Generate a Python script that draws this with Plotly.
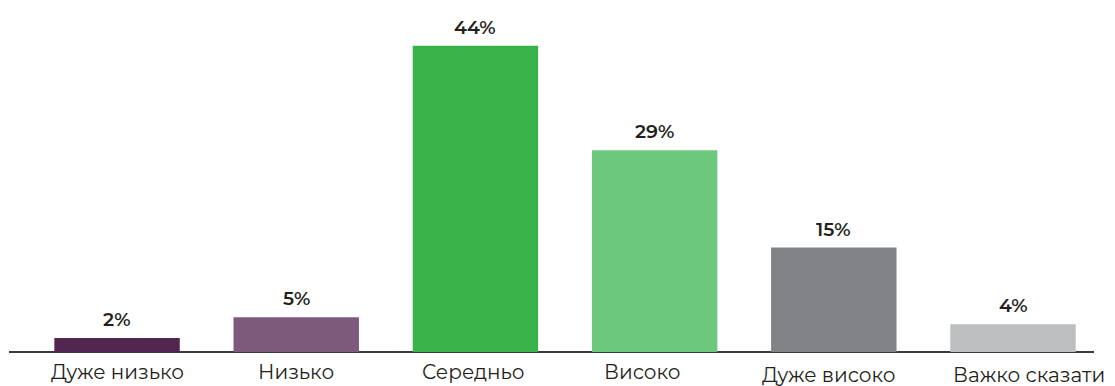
import plotly.graph_objects as go

# Survey answers and their shares, %
categories = ["Дуже низько", "Низько", "Середньо", "Високо", "Дуже високо", "Важко сказати"]
shares = [2, 5, 44, 29, 15, 4]
bar_colors = ["#522650", "#7d5a7c", "#37b34a", "#6cc87c", "#808285", "#bcbec0"]

FONT = "Montserrat, 'Open Sans', sans-serif"
TEXT_COLOR = "#231f20"

x = list(range(len(categories)))

fig = go.Figure(
    go.Bar(
        x=x,
        y=shares,
        width=0.70,
        marker=dict(color=bar_colors, line=dict(width=0)),
        hoverinfo="skip",
    )
)

# value labels above the bars
for xi, v in zip(x, shares):
    fig.add_annotation(
        x=xi, y=v, xref="x", yref="y",
        text=f"{v}%", showarrow=False,
        yanchor="bottom", yshift=5,
        font=dict(family=FONT, size=19, color=TEXT_COLOR, weight=600),
    )

# category captions under the baseline (slightly staggered)
label_xshift = [0, 0, -2, -12, -5, 16]
label_yshift = [-7, -7, -7, -7, -10, -10]
for xi, name, dx, dy in zip(x, categories, label_xshift, label_yshift):
    fig.add_annotation(
        x=xi, y=0, xref="x", yref="y",
        text=name, showarrow=False,
        yanchor="top", xshift=dx, yshift=dy, borderpad=0,
        font=dict(family=FONT, size=20, color=TEXT_COLOR),
    )

fig.update_layout(
    width=1115, height=386,
    margin=dict(l=9, r=21, t=4, b=34),
    paper_bgcolor="white", plot_bgcolor="white",
    showlegend=False,
    bargap=0.3,
    xaxis=dict(
        range=[-0.603, 5.452], showticklabels=False, showgrid=False,
        zeroline=False, showline=False, fixedrange=True,
    ),
    yaxis=dict(
        range=[0, 50], showticklabels=False, showgrid=False,
        zeroline=True, zerolinecolor="#3a3a3a", zerolinewidth=2,
        showline=False, fixedrange=True,
    ),
)

fig.write_html("out.html")
